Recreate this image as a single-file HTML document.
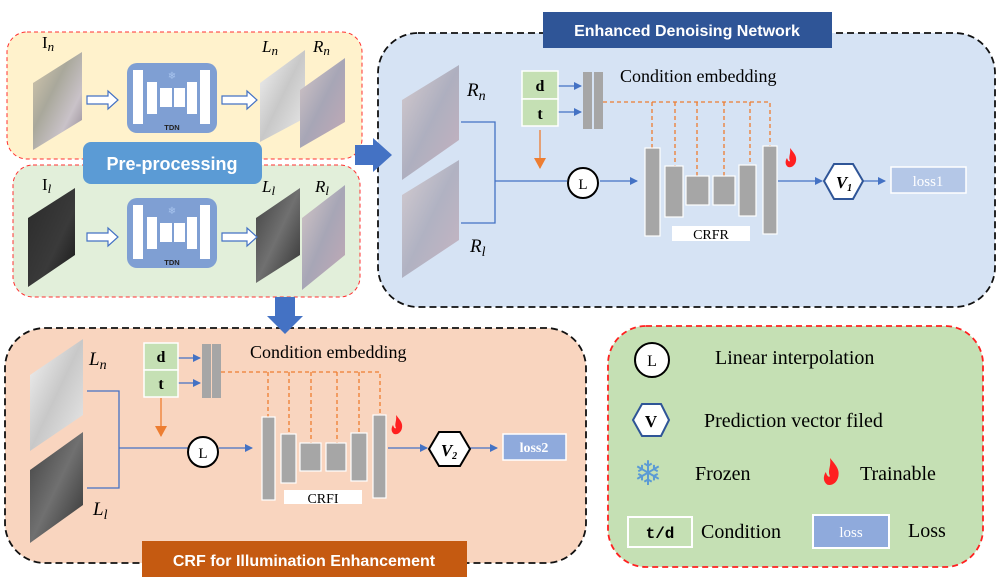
<!DOCTYPE html>
<html><head><meta charset="utf-8"><style>
body{margin:0;background:#fff}
svg{display:block}
.s{font-family:"Liberation Serif",serif}
.b{font-family:"Liberation Sans",sans-serif;font-weight:bold}
.m{font-family:"Liberation Serif",serif;font-weight:bold}
</style></head><body>
<svg width="999" height="582" viewBox="0 0 999 582" xmlns="http://www.w3.org/2000/svg">
<defs>
<linearGradient id="col" x1="0" y1="0" x2="1" y2="1"><stop offset="0" stop-color="#d8cbb0"/><stop offset="0.4" stop-color="#a9a89b"/><stop offset="0.7" stop-color="#c9c2c8"/><stop offset="1" stop-color="#8a7f8a"/></linearGradient>
<linearGradient id="colr" x1="0" y1="0" x2="1" y2="1"><stop offset="0" stop-color="#d6c8c8"/><stop offset="0.5" stop-color="#a7a6b6"/><stop offset="1" stop-color="#c4a9b5"/></linearGradient>
<linearGradient id="wht" x1="0" y1="0" x2="1" y2="1"><stop offset="0" stop-color="#f4f4f4"/><stop offset="0.5" stop-color="#c8c8c8"/><stop offset="1" stop-color="#eaeaea"/></linearGradient>
<linearGradient id="drk" x1="0" y1="0" x2="1" y2="1"><stop offset="0" stop-color="#2a2a2a"/><stop offset="0.6" stop-color="#3a3a3a"/><stop offset="1" stop-color="#151515"/></linearGradient>
<linearGradient id="gry" x1="0" y1="0" x2="1" y2="1"><stop offset="0" stop-color="#404040"/><stop offset="0.5" stop-color="#707070"/><stop offset="1" stop-color="#303030"/></linearGradient>
<marker id="ab" markerWidth="8" markerHeight="8" refX="7" refY="4" orient="auto" markerUnits="userSpaceOnUse"><path d="M0,0 L8,4 L0,8z" fill="#4472c4"/></marker>
<marker id="ao" markerWidth="12" markerHeight="12" refX="10" refY="6" orient="auto" markerUnits="userSpaceOnUse"><path d="M0,0 L11,6 L0,12z" fill="#ed7d31"/></marker>
<g id="flame"><path d="M5,0 C9,5 12,8 11,13 C10,18 6,20 3,19 C0,17 0,13 2,10 C3,13 4,14 5,13 C3,9 6,6 5,0z" fill="#ff2020"/></g>
</defs>

<rect x="7" y="32" width="355" height="127" rx="20" fill="#fff2cc" stroke="#ff3030" stroke-width="1" stroke-dasharray="4,3"/>
<rect x="13" y="165" width="347" height="132" rx="20" fill="#e2efda" stroke="#ff3030" stroke-width="1" stroke-dasharray="4,3"/>

<polygon points="33,83 82,52 82,120 33,150" fill="url(#col)"/>
<polygon points="260,83 305,50 305,118 260,142" fill="url(#wht)"/>
<polygon points="300,90 345,58 345,122 300,148" fill="url(#colr)"/>
<polygon points="28,218 75,188 75,255 28,287" fill="url(#drk)"/>
<polygon points="256,218 300,188 300,255 256,283" fill="url(#gry)"/>
<polygon points="302,218 345,185 345,255 302,290" fill="url(#colr)"/>
<text x="42" y="48" class="s" font-size="17">I<tspan font-style="italic" font-size="13" dy="3">n</tspan></text>
<text x="262" y="52" class="s" font-style="italic" font-size="17">L<tspan font-size="13" dy="3">n</tspan></text>
<text x="313" y="52" class="s" font-style="italic" font-size="17">R<tspan font-size="13" dy="3">n</tspan></text>
<text x="42" y="190" class="s" font-size="17">I<tspan font-style="italic" font-size="13" dy="3">l</tspan></text>
<text x="262" y="192" class="s" font-style="italic" font-size="17">L<tspan font-size="13" dy="3">l</tspan></text>
<text x="315" y="192" class="s" font-style="italic" font-size="17">R<tspan font-size="13" dy="3">l</tspan></text>

<g fill="#fff" stroke="#4472c4" stroke-width="1.2">
<polygon points="87,96 108,96 108,91 118,100 108,109 108,104 87,104"/>
<polygon points="222,96 247,96 247,91 257,100 247,109 247,104 222,104"/>
<polygon points="87,233 108,233 108,228 118,237 108,246 108,241 87,241"/>
<polygon points="222,233 247,233 247,228 257,237 247,246 247,241 222,241"/>
</g>

<g id="tdn">
<rect x="127" y="63" width="90" height="70" rx="10" fill="#7f9fd3"/>
<g fill="#fff"><rect x="133" y="70" width="10" height="54"/><rect x="147" y="82" width="10" height="32"/><rect x="160" y="88" width="12" height="19"/><rect x="174" y="88" width="11" height="19"/><rect x="187" y="82" width="10" height="32"/><rect x="200" y="70" width="10" height="54"/></g>
<text x="172" y="79" font-size="10" fill="#a8c4ee" text-anchor="middle">❄</text>
<text x="172" y="130" class="b" font-size="7.5" text-anchor="middle" fill="#222">TDN</text>
</g>
<use href="#tdn" y="135"/>

<rect x="83" y="142" width="179" height="42" rx="8" fill="#5b9bd5"/>
<text x="172" y="170" class="b" font-size="18" fill="#fff" text-anchor="middle">Pre-processing</text>

<rect x="378" y="33" width="617" height="274" rx="40" fill="#d6e3f4" stroke="#111" stroke-width="1.8" stroke-dasharray="7,4"/>
<rect x="543" y="12" width="289" height="36" fill="#2f5597"/>
<text x="687" y="36" class="b" font-size="16" fill="#fff" text-anchor="middle">Enhanced Denoising Network</text>

<polygon points="355,145 373,145 373,138 392,155 373,172 373,165 355,165" fill="#4472c4"/>

<polygon points="402,100 459,65 459,140 402,180" fill="url(#colr)" opacity="0.85"/>
<polygon points="402,195 459,160 459,240 402,278" fill="url(#colr)" opacity="0.8"/>
<text x="467" y="96" class="s" font-style="italic" font-size="19">R<tspan font-size="14" dy="4">n</tspan></text>
<text x="470" y="252" class="s" font-style="italic" font-size="19">R<tspan font-size="14" dy="4">l</tspan></text>
<g stroke="#4472c4" stroke-width="1.3" fill="none">
<polyline points="461,122 495,122 495,223 461,223"/>
<line x1="495" y1="181" x2="567" y2="181"/>
<line x1="600" y1="181" x2="637" y2="181" marker-end="url(#ab)"/>
<line x1="558" y1="86" x2="581" y2="86" marker-end="url(#ab)"/>
<line x1="558" y1="112" x2="581" y2="112" marker-end="url(#ab)"/>
<line x1="778" y1="181" x2="822" y2="181" marker-end="url(#ab)"/>
<line x1="863" y1="181" x2="885" y2="181" marker-end="url(#ab)"/>
</g>
<rect x="522" y="71" width="36" height="28" fill="#c5e0b4" stroke="#fff" stroke-width="1.5"/>
<rect x="522" y="99" width="36" height="27" fill="#c5e0b4" stroke="#fff" stroke-width="1.5"/>
<text x="540" y="91" class="m" font-size="16" text-anchor="middle">d</text>
<text x="540" y="119" class="m" font-size="16" text-anchor="middle">t</text>
<rect x="583" y="72" width="9" height="57" fill="#a6a6a6"/><rect x="594" y="72" width="9" height="57" fill="#a6a6a6"/>
<text x="620" y="82" class="s" font-size="18">Condition embedding</text>
<g stroke="#ed7d31" stroke-width="1.3" stroke-dasharray="4,3" fill="none">
<polyline points="603,102 770,102 770,146"/>
<line x1="652" y1="102" x2="652" y2="148"/><line x1="675" y1="102" x2="675" y2="166"/><line x1="697" y1="102" x2="697" y2="176"/><line x1="724" y1="102" x2="724" y2="176"/><line x1="750" y1="102" x2="750" y2="165"/>
</g>
<line x1="540" y1="130" x2="540" y2="168" stroke="#ed7d31" stroke-width="1.3" marker-end="url(#ao)"/>
<circle cx="583" cy="183" r="15" fill="#fff" stroke="#000" stroke-width="2"/>
<text x="583" y="189" class="s" font-size="15" text-anchor="middle">L</text>
<g fill="#a6a6a6" stroke="#fff" stroke-width="1.2">
<rect x="645" y="148" width="15" height="88"/><rect x="665" y="166" width="18" height="51"/><rect x="686" y="176" width="23" height="29"/><rect x="713" y="176" width="22" height="29"/><rect x="739" y="165" width="17" height="51"/><rect x="763" y="146" width="14" height="88"/>
</g>
<rect x="672" y="226" width="78" height="15" fill="#fff"/>
<text x="711" y="239" class="s" font-size="14" text-anchor="middle">CRFR</text>
<use href="#flame" x="785" y="148"/>
<polygon points="824,181 834,164 853,164 863,181 853,199 834,199" fill="#fff" stroke="#2f5597" stroke-width="2"/>
<text x="844" y="188" class="s" font-weight="bold" font-style="italic" font-size="17" text-anchor="middle">V<tspan font-size="10" dy="3">1</tspan></text>
<rect x="891" y="167" width="75" height="26" fill="#b4c7e7" stroke="#fff" stroke-width="1.5"/>
<text x="928" y="186" class="s" font-size="15" fill="#fff" text-anchor="middle">loss1</text>

<rect x="5" y="328" width="581" height="235" rx="40" fill="#f9d5bf" stroke="#111" stroke-width="1.8" stroke-dasharray="7,4"/>
<polygon points="275,297 295,297 295,316 303,316 285,334 267,316 275,316" fill="#4472c4"/>
<rect x="142" y="541" width="325" height="36" fill="#c55a11"/>
<text x="304" y="566" class="b" font-size="16" fill="#fff" text-anchor="middle">CRF for Illumination Enhancement</text>
<polygon points="30,375 83,339 83,415 30,451" fill="url(#wht)"/>
<polygon points="30,470 83,432 83,505 30,543" fill="url(#gry)"/>
<text x="89" y="365" class="s" font-style="italic" font-size="19">L<tspan font-size="14" dy="4">n</tspan></text>
<text x="93" y="515" class="s" font-style="italic" font-size="19">L<tspan font-size="14" dy="4">l</tspan></text>
<g stroke="#4472c4" stroke-width="1.3" fill="none">
<polyline points="87,391 119,391 119,488 87,488"/>
<line x1="119" y1="448" x2="188" y2="448"/>
<line x1="219" y1="448" x2="252" y2="448" marker-end="url(#ab)"/>
<line x1="178" y1="358" x2="200" y2="358" marker-end="url(#ab)"/>
<line x1="178" y1="383" x2="200" y2="383" marker-end="url(#ab)"/>
<line x1="388" y1="448" x2="427" y2="448" marker-end="url(#ab)"/>
<line x1="470" y1="448" x2="497" y2="448" marker-end="url(#ab)"/>
</g>
<rect x="144" y="343" width="34" height="27" fill="#c5e0b4" stroke="#fff" stroke-width="1.5"/>
<rect x="144" y="370" width="34" height="27" fill="#c5e0b4" stroke="#fff" stroke-width="1.5"/>
<text x="161" y="362" class="m" font-size="16" text-anchor="middle">d</text>
<text x="161" y="389" class="m" font-size="16" text-anchor="middle">t</text>
<rect x="202" y="344" width="9" height="54" fill="#a6a6a6"/><rect x="212" y="344" width="9" height="54" fill="#a6a6a6"/>
<text x="250" y="358" class="s" font-size="18">Condition embedding</text>
<g stroke="#ed7d31" stroke-width="1.3" stroke-dasharray="4,3" fill="none">
<polyline points="221,372 380,372 380,413"/>
<line x1="268" y1="372" x2="268" y2="417"/><line x1="289" y1="372" x2="289" y2="434"/><line x1="311" y1="372" x2="311" y2="443"/><line x1="337" y1="372" x2="337" y2="443"/><line x1="359" y1="372" x2="359" y2="433"/>
</g>
<line x1="161" y1="398" x2="161" y2="436" stroke="#ed7d31" stroke-width="1.3" marker-end="url(#ao)"/>
<circle cx="203" cy="452" r="15" fill="#fff" stroke="#000" stroke-width="2"/>
<text x="203" y="458" class="s" font-size="15" text-anchor="middle">L</text>
<g fill="#a6a6a6" stroke="#fff" stroke-width="1.2">
<rect x="262" y="417" width="13" height="83"/><rect x="281" y="434" width="15" height="49"/><rect x="300" y="443" width="21" height="28"/><rect x="326" y="443" width="20" height="28"/><rect x="351" y="433" width="16" height="48"/><rect x="373" y="415" width="13" height="83"/>
</g>
<rect x="284" y="490" width="78" height="14" fill="#fff"/>
<text x="323" y="503" class="s" font-size="14" text-anchor="middle">CRFI</text>
<use href="#flame" x="391" y="415"/>
<polygon points="429,449 439,432 460,432 470,449 460,466 439,466" fill="#fff" stroke="#000" stroke-width="2"/>
<text x="449" y="456" class="s" font-weight="bold" font-style="italic" font-size="17" text-anchor="middle">V<tspan font-size="10" dy="3">2</tspan></text>
<rect x="503" y="434" width="63" height="26" fill="#8faadc" stroke="#fff" stroke-width="1.5"/>
<text x="534" y="452" class="s" font-weight="bold" font-size="14" fill="#fff" text-anchor="middle">loss2</text>

<rect x="608" y="326" width="375" height="241" rx="38" fill="#c5e0b4" stroke="#ff2020" stroke-width="1.8" stroke-dasharray="6,4"/>
<circle cx="652" cy="360" r="17" fill="#fff" stroke="#000" stroke-width="2"/>
<text x="652" y="366" class="s" font-size="16" text-anchor="middle">L</text>
<text x="715" y="364" class="s" font-size="20">Linear interpolation</text>
<polygon points="633,420 642,404 661,404 669,420 661,436 642,436" fill="#fff" stroke="#2f5597" stroke-width="2"/>
<text x="651" y="427" class="s" font-weight="bold" font-size="17" text-anchor="middle">V</text>
<text x="704" y="427" class="s" font-size="20">Prediction vector filed</text>
<text x="648" y="485" font-size="34" fill="#5b9bd5" text-anchor="middle">❄</text>
<text x="695" y="480" class="s" font-size="20">Frozen</text>
<use href="#flame" transform="translate(823,458) scale(1.4)"/>
<text x="860" y="480" class="s" font-size="20">Trainable</text>
<rect x="628" y="517" width="64" height="30" fill="#c5e0b4" stroke="#fff" stroke-width="2"/>
<text x="660" y="538" font-family="Liberation Mono" font-weight="bold" font-size="16" text-anchor="middle">t/d</text>
<text x="701" y="538" class="s" font-size="20">Condition</text>
<rect x="813" y="515" width="76" height="33" fill="#8faadc" stroke="#fff" stroke-width="2"/>
<text x="851" y="537" class="s" font-size="15" fill="#fff" text-anchor="middle">loss</text>
<text x="908" y="537" class="s" font-size="20">Loss</text>
</svg>
</body></html>
